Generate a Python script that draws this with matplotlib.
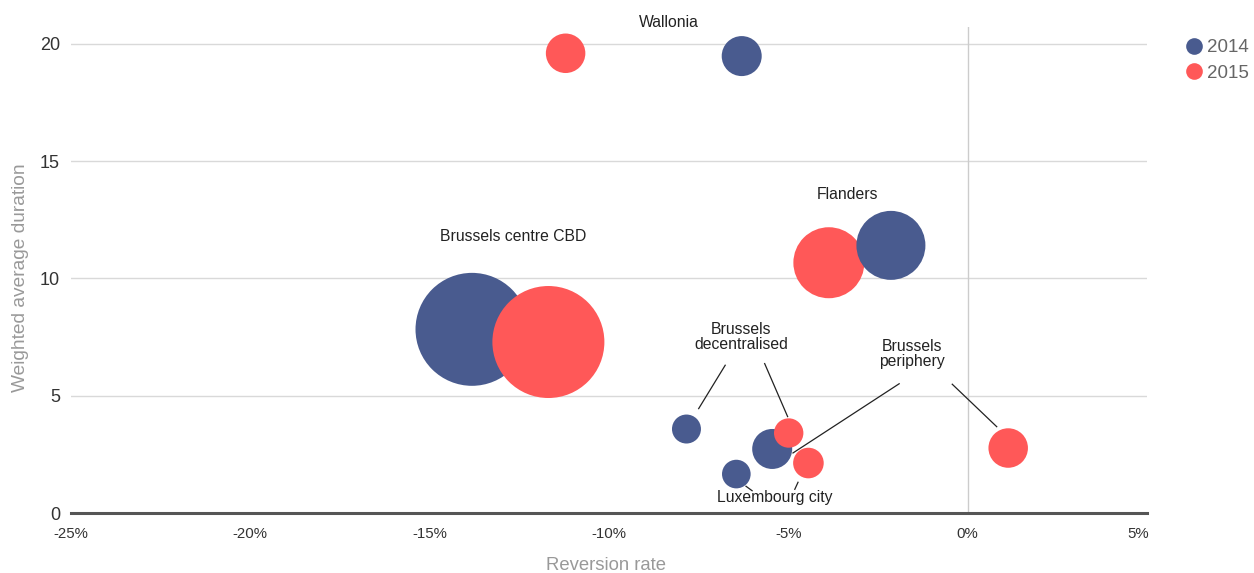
import matplotlib
matplotlib.use("Agg")
import matplotlib.pyplot as plt
from matplotlib.lines import Line2D
import matplotlib.transforms as mtransforms
import numpy as np

plt.rcParams['font.family'] = ['Liberation Sans', 'DejaVu Sans']

# ---------------- data ----------------
regions = ["Wallonia", "Flanders", "Brussels centre CBD", "Brussels decentralised",
           "Brussels periphery", "Luxembourg city"]

x_2014 = [-6.30, -2.14, -13.82, -7.84, -5.45, -6.45]     # reversion rate (%)
y_2014 = [19.48, 11.41, 7.83, 3.58, 2.73, 1.66]          # weighted average duration
z_2014 = [400, 1190, 3190, 210, 400, 205]                # bubble size

x_2015 = [-11.21, -3.87, -11.69, -4.99, 1.13, -4.44]
y_2015 = [19.60, 10.67, 7.29, 3.41, 2.77, 2.13]
z_2015 = [390, 1260, 3136, 216, 390, 234]

series_names = ["2014", "2015"]
series_colors = ["#495b8f", "#ff5858"]

x_ticks = [-25, -20, -15, -10, -5, 0, 5]
y_ticks = [0, 5, 10, 15, 20]

# label positions (data coords) and connector lines
labels = [
    ("Wallonia", -8.34, 20.9),
    ("Flanders", -3.36, 13.56),
    ("Brussels centre CBD", -12.66, 11.77),
    ("Brussels\ndecentralised", -6.31, 7.5),
    ("Brussels\nperiphery", -1.55, 6.78),
    ("Luxembourg city", -5.39, 0.68),
]
connectors = [
    ((-6.76, 6.30), (-7.50, 4.45)),
    ((-5.66, 6.37), (-5.02, 4.11)),
    ((-1.91, 5.51), (-4.87, 2.56)),
    ((-0.43, 5.49), (0.81, 3.68)),
    ((-6.18, 1.14), (-6.01, 0.95)),
    ((-4.73, 1.31), (-4.82, 1.01)),
]

# ---------------- figure ----------------
W, H, DPI = 1254, 573, 100
fig = plt.figure(figsize=(W / DPI, H / DPI), dpi=DPI)
L, R, T, B = 71, 1147, 27, 513
ax = fig.add_axes([L / W, 1 - B / H, (R - L) / W, (B - T) / H])
ax.set_xlim(-25, 5)
ax.set_ylim(0, 20.72)

px_to_pt = 72 / DPI
# draw bubbles, larger first (smaller on top)
xs = np.array(x_2014 + x_2015)
ys = np.array(y_2014 + y_2015)
zs = np.array(z_2014 + z_2015, dtype=float)
cs = np.array([series_colors[0]] * len(x_2014) + [series_colors[1]] * len(x_2015))
order = np.argsort(-zs, kind="stable")
radius_px = np.sqrt(zs)
sizes = (2 * radius_px * px_to_pt) ** 2
ax.scatter(xs[order], ys[order], s=sizes[order], c=list(cs[order]),
           linewidths=0, zorder=3)

# grid
for yt in y_ticks[1:]:
    ax.axhline(yt, color="#d9d9d9", lw=1, zorder=1)
ax.axvline(0, color="#cccccc", lw=1, zorder=1)

for s in ["top", "right", "left"]:
    ax.spines[s].set_visible(False)
ax.spines["bottom"].set_color("#555555")
ax.spines["bottom"].set_linewidth(2.2)
ax.spines["bottom"].set_zorder(4)

ax.set_xticks(x_ticks)
ax.set_xticklabels([f"{t}%" for t in x_ticks])
ax.set_yticks(y_ticks)
ax.tick_params(axis="x", length=0, pad=10, labelsize=10.8, labelcolor="#333333")
ax.tick_params(axis="y", length=0, pad=8, labelsize=13, labelcolor="#333333")
last = ax.get_xticklabels()[-1]
last.set_ha("right")
last.set_transform(last.get_transform() +
                   mtransforms.ScaledTranslation(2 / DPI, 0, fig.dpi_scale_trans))

ax.set_xlabel("Reversion rate", fontsize=13.3, color="#999999", va="center", ha="center")
ax.set_ylabel("Weighted average duration", fontsize=13.8, color="#999999",
              va="center", ha="center")
ax.xaxis.set_label_coords((606 - L) / (R - L), (B - 566) / (B - T))
ax.yaxis.set_label_coords((21 - L) / (R - L), (B - 278) / (B - T))

for txt, lx, ly in labels:
    ax.text(lx, ly, txt, ha="center", va="center", fontsize=11.3, color="#222222",
            linespacing=1.0, zorder=6, clip_on=False)
for (x0, y0), (x1, y1) in connectors:
    ax.plot([x0, x1], [y0, y1], color="#222222", lw=0.9, zorder=5)

handles = [Line2D([0], [0], marker="o", linestyle="", markersize=12,
                  markerfacecolor=c, markeredgewidth=0) for c in series_colors]
leg = fig.legend(handles, series_names, loc="upper left",
                 bbox_to_anchor=(1183 / W, 1 - 39 / H), frameon=False,
                 fontsize=13.5, handletextpad=0.1, labelspacing=0.45,
                 handlelength=1.2, borderpad=0, borderaxespad=0)
for t in leg.get_texts():
    t.set_color("#666666")

fig.savefig("out.png", dpi=DPI)
